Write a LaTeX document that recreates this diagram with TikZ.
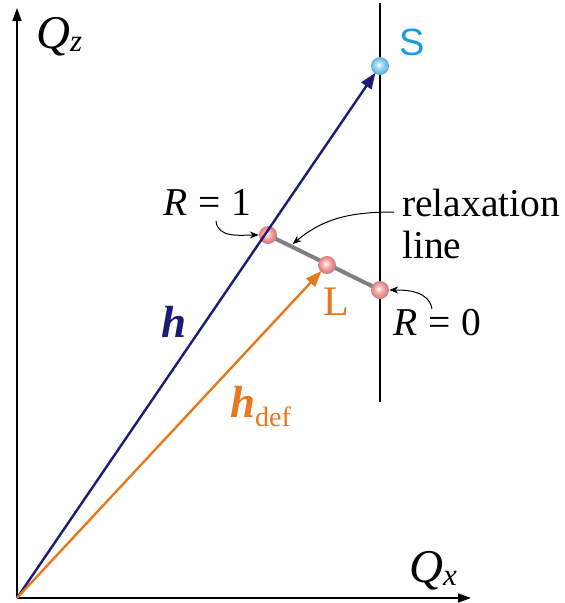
\documentclass[tikz,border=0pt]{standalone}
\usepackage{fontspec}
\setmainfont{Liberation Serif}
\newfontfamily\arialfont{Liberation Sans}
\usetikzlibrary{arrows.meta,calc,shadings}
\definecolor{navy}{HTML}{1E1A78}
\definecolor{orng}{HTML}{E8781E}
\definecolor{sblue}{HTML}{1E9BE0}
\definecolor{pinkc}{HTML}{F09494}
\definecolor{bluec}{HTML}{7CC8F0}
\pgfdeclareradialshading{pinkshade}{\pgfpoint{-4bp}{4bp}}{color(0bp)=(white); color(6bp)=(pinkc!45!white); color(16bp)=(pinkc); color(25bp)=(pinkc!85!black); color(50bp)=(pinkc!85!black)}
\pgfdeclareradialshading{blueshade}{\pgfpoint{-4bp}{4bp}}{color(0bp)=(white); color(6bp)=(bluec!45!white); color(16bp)=(bluec); color(25bp)=(bluec!85!black); color(50bp)=(bluec!85!black)}
\tikzset{
  axis/.style={line width=1.6pt,-{Triangle[length=13pt,width=9pt]}},
  vec/.style={line width=2.4pt,-{Triangle[length=16pt,width=12pt]}},
  pinkball/.style={circle,minimum size=18pt,inner sep=0pt,shading=pinkshade},
  blueball/.style={circle,minimum size=18pt,inner sep=0pt,shading=blueshade},
  callout/.style={line width=1pt,-{Stealth[length=9pt,width=7pt]}},
  lbl/.style={font=\fontsize{39.5}{42}\selectfont,inner sep=0pt,anchor=base west},
}
\begin{document}
\begin{tikzpicture}[x=1pt,y=-1pt]
\useasboundingbox (0,0) rectangle (565,603);
% axes
\coordinate (O) at (17,598);
\coordinate (zt) at (17,8);
\coordinate (xt) at (471,598);
\draw[axis] (O) -- (zt);
\draw[axis] (O) -- (xt);
% vertical line
\coordinate (vt) at (380,3);
\coordinate (vb) at (380,402);
\draw[line width=1.6pt] (vt) -- (vb);
% relaxation line
\coordinate (r1c) at (268,235);
\coordinate (r0c) at (380,290);
\draw[line width=4pt,gray] (r1c) -- (r0c);
% balls
\node[blueball] (S) at (380,66) {};
\node[pinkball] (R1) at (r1c) {};
\node[pinkball] (L) at (327,265) {};
\node[pinkball] (R0) at (r0c) {};
% vectors
\draw[vec,navy,shorten >=-1pt] (O) -- (S);
\draw[vec,orng,shorten >=-1pt] (O) -- (L);
% labels
\node[lbl,font=\fontsize{47}{50}\selectfont] (Qz) at (36,48) {\itshape Q\raisebox{-0.08em}{\fontsize{31}{31}\selectfont z}};
\node[lbl,font=\fontsize{47}{50}\selectfont] (Qx) at (409,582) {\itshape Q\raisebox{-0.08em}{\fontsize{31}{31}\selectfont x}};
\node[lbl,font=\arialfont\fontsize{38}{42}\selectfont,text=sblue] (Slbl) at (399,55) {S};
\node[lbl,font=\fontsize{42}{45}\selectfont,text=orng] (Llbl) at (323,315) {L};
\node[lbl] (R1lbl) at (163,215) {\textit{R}\hspace{0.28em}=\hspace{0.28em}1};
\node[lbl] (R0lbl) at (393,335) {\textit{R}\hspace{0.28em}=\hspace{0.28em}0};
\node[lbl] (rel1) at (402,216) {relaxation};
\node[lbl] (rel2) at (402,258) {line};
\node[lbl,font=\fontsize{45}{48}\selectfont\bfseries\itshape,text=navy] (hlbl) at (161,337) {h};
\node[lbl,font=\fontsize{45}{48}\selectfont,text=orng] (hdef) at (230,417) {\textbf{\textit{h}}\raisebox{-0.2em}{\fontsize{28}{30}\selectfont def}};
% callouts
\coordinate (c1) at (216,221);
\draw[callout] (c1) to[out=-85,in=180] (R1.west);
\coordinate (c2) at (394,212);
\coordinate (rl) at ($(r1c)!0.22!(r0c)+(0,-3)$);
\draw[callout] (c2) to[out=180,in=40] (rl);
\coordinate (c3) at (432,309);
\draw[callout] (c3) to[out=100,in=0] (R0.east);
\end{tikzpicture}
\end{document}
